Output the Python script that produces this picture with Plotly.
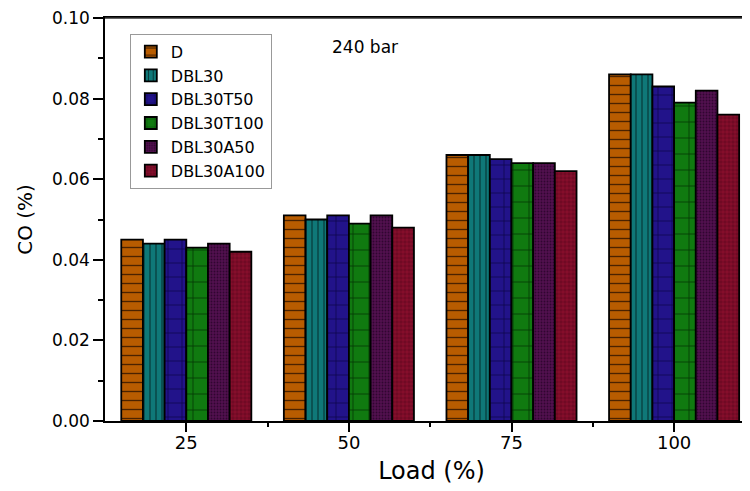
import plotly.graph_objects as go

loads = ["25", "50", "75", "100"]
series_names = ["D", "DBL30", "DBL30T50", "DBL30T100", "DBL30A50", "DBL30A100"]
D = [0.045, 0.051, 0.066, 0.086]
DBL30 = [0.044, 0.050, 0.066, 0.086]
DBL30T50 = [0.045, 0.051, 0.065, 0.083]
DBL30T100 = [0.043, 0.049, 0.064, 0.079]
DBL30A50 = [0.044, 0.051, 0.064, 0.082]
DBL30A100 = [0.042, 0.048, 0.062, 0.076]
values = [D, DBL30, DBL30T50, DBL30T100, DBL30A50, DBL30A100]

bg_colors = ["#B85C00", "#0F7878", "#22138A", "#107A10", "#52104F", "#700A24"]
fg_colors = ["#4a2200", "#063838", "#0a0545", "#053805", "#300630", "#c8183c"]
shapes = ["-", "|", "+", "+", ".", "+"]
sizes = [9, 6, 14, 16, 3, 4]
solids = [0.15, 0.2, 0.1, 0.1, 0.3, 0.12]

xpos = list(range(len(loads)))

FONT = "DejaVu Sans, Liberation Sans, Arial, sans-serif"

fig = go.Figure()
for name, vals, bg, fg, sh, sz, so in zip(series_names, values, bg_colors, fg_colors, shapes, sizes, solids):
    fig.add_trace(go.Bar(
        x=xpos, y=vals, name=name,
        marker=dict(
            color=bg,
            line=dict(color="black", width=1.8),
            pattern=dict(shape=sh, fgcolor=fg, bgcolor=bg, size=sz, solidity=so, fillmode="replace"),
        ),
    ))

fig.update_layout(
    width=750, height=491,
    barmode="group", bargap=0.2, bargroupgap=0,
    plot_bgcolor="white", paper_bgcolor="white",
    margin=dict(l=97, r=0, t=6, b=78),
    font=dict(family=FONT, color="black"),
    legend=dict(
        x=0.038, y=0.961, xanchor="left", yanchor="top",
        bordercolor="#999999", borderwidth=1, bgcolor="white",
        font=dict(size=16), tracegroupgap=0, itemwidth=30,
    ),
    annotations=[dict(
        x=0.345, y=0.929, xref="paper", yref="paper", text="240 bar",
        showarrow=False, xanchor="left", yanchor="middle", font=dict(size=17),
    )],
    shapes=[dict(
        type="line", xref="paper", yref="paper", x0=0, x1=1, y0=1, y1=1,
        line=dict(color="#333333", width=1.5), layer="above",
    )],
)

fig.update_xaxes(
    range=[-0.5, 3.516],
    tickmode="array", tickvals=xpos, ticktext=loads,
    ticks="outside", ticklen=9, tickwidth=1.5, tickcolor="black",
    showline=True, linecolor="black", linewidth=1.5, mirror=True,
    showgrid=False, zeroline=False, ticklabeloverflow="allow",
    ticklabelstandoff=-4,
    tickfont=dict(size=18),
    minor=dict(tickvals=[0.5, 1.5, 2.5], ticks="outside", ticklen=4, tickwidth=1.5, tickcolor="black"),
    title=dict(text="Load (%)", font=dict(size=24), standoff=10),
)
fig.update_yaxes(
    range=[0, 0.1],
    tickmode="array", tickvals=[0, 0.02, 0.04, 0.06, 0.08, 0.10],
    ticktext=["0.00", "0.02", "0.04", "0.06", "0.08", "0.10"],
    ticks="outside", ticklen=10, tickwidth=1.5, tickcolor="black",
    showline=True, linecolor="black", linewidth=1.5,
    showgrid=False, zeroline=False, ticklabeloverflow="allow",
    tickfont=dict(size=17),
    minor=dict(tickvals=[0.01, 0.03, 0.05, 0.07, 0.09], ticks="outside", ticklen=5, tickwidth=1.5, tickcolor="black"),
    title=dict(text="CO (%)", font=dict(size=20), standoff=14),
)

fig.write_html("out.html")
